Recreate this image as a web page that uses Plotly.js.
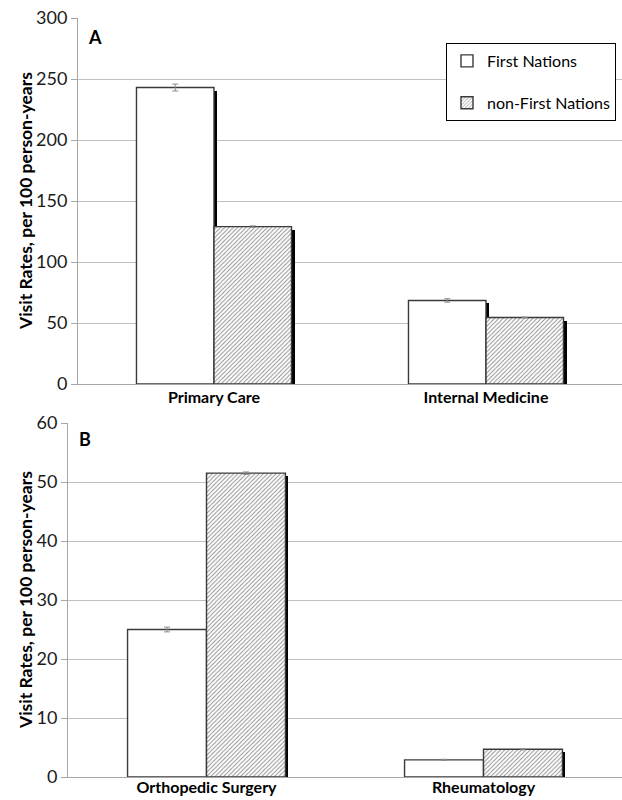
<!DOCTYPE html>
<html>
<head>
<meta charset="utf-8">
<script src="https://cdn.plot.ly/plotly-3.0.1.min.js"></script>
<style>html,body{margin:0;padding:0;background:#fff;}#chart{width:622px;height:800px;}</style>
</head>
<body>
<div id="chart"></div>
<script>
// ---- data ----
const categoriesA = ['Primary Care', 'Internal Medicine'];
const firstNationsA = [243, 68.5];
const firstNationsErrA = [2.8, 1.4];
const nonFirstNationsA = [129, 54.5];
const nonFirstNationsErrA = [0.6, 0.3];

const categoriesB = ['Orthopedic Surgery', 'Rheumatology'];
const firstNationsB = [25.0, 2.9];
const firstNationsErrB = [0.4, 0.1];
const nonFirstNationsB = [51.5, 4.7];
const nonFirstNationsErrB = [0.2, 0.1];

const seriesNames = ['First Nations', 'non-First Nations'];
const yTicksA = [0, 50, 100, 150, 200, 250, 300];
const yTicksB = [0, 10, 20, 30, 40, 50, 60];

// ---- styling ----
const FONT = 'Lato, "Open Sans", sans-serif';
const W = 0.285;            // bar width (category units)
const SHX = 0.011;          // shadow x shift (category units)
const shA = 300 * 3 / 366;  // shadow y shift panel A (data units ~3px)
const shB = 60 * 3 / 354;   // shadow y shift panel B
const outline = {color: '#3a3a3a', width: 1.4};
const hatch = {shape: '/', fgcolor: '#8a8a8a', bgcolor: '#ffffff', size: 3, solidity: 0.3};
const errStyle = (arr) => ({type: 'data', array: arr, visible: true, color: '#8a8a8a', thickness: 1, width: 3});

const idxA = categoriesA.map((_, i) => i);
const idxB = categoriesB.map((_, i) => i);

function panel(idx, fn, fnErr, non, nonErr, sh, xa, ya, showLegend) {
  const shadow = (vals, off) => ({
    type: 'bar', x: idx, y: vals, base: vals.map(() => -sh),
    width: W, offset: off + SHX, xaxis: xa, yaxis: ya,
    marker: {color: '#000'}, showlegend: false, hoverinfo: 'skip'
  });
  return [
    shadow(fn, -W),
    shadow(non, 0),
    {type: 'bar', name: seriesNames[0], x: idx, y: fn, width: W, offset: -W,
     xaxis: xa, yaxis: ya, marker: {color: '#fff', line: outline},
     error_y: errStyle(fnErr), showlegend: showLegend, legendgroup: 'g1'},
    {type: 'bar', name: seriesNames[1], x: idx, y: non, width: W, offset: 0,
     xaxis: xa, yaxis: ya, marker: {color: '#fff', line: outline, pattern: hatch},
     error_y: errStyle(nonErr), showlegend: showLegend, legendgroup: 'g2'}
  ];
}

const data = [
  ...panel(idxA, firstNationsA, firstNationsErrA, nonFirstNationsA, nonFirstNationsErrA, shA, 'x', 'y', true),
  ...panel(idxB, firstNationsB, firstNationsErrB, nonFirstNationsB, nonFirstNationsErrB, shB, 'x2', 'y2', false)
];

const L = 68, T = 18, B = 23, PW = 622 - L, PH = 800 - T - B;
const px2x = (p) => (p - L) / PW;
const px2y = (p) => (800 - B - p) / PH;

const yCommon = {
  showline: true, linecolor: '#a6a6a6', linewidth: 1,
  gridcolor: '#bfbfbf', gridwidth: 1, zeroline: false,
  ticks: 'outside', ticklen: 6, tickcolor: '#a6a6a6',
  tickfont: {family: FONT, size: 18, color: '#1a1a1a'}, automargin: false
};
const xCommon = {
  showline: true, linecolor: '#a6a6a6', linewidth: 1, showgrid: false, zeroline: false,
  ticks: '', range: [-0.5, 1.5], tickmode: 'array',
  tickfont: {family: FONT, size: 16, color: '#000', weight: 'bold'}, automargin: false
};

const layout = {
  width: 622, height: 800,
  margin: {l: L, r: 0, t: T, b: B},
  paper_bgcolor: '#fff', plot_bgcolor: '#fff',
  barmode: 'overlay', bargap: 0,
  font: {family: FONT},
  xaxis: Object.assign({}, xCommon, {domain: [px2x(78), 1], anchor: 'y',
    tickvals: idxA, ticktext: categoriesA, ticklabelstandoff: -1}),
  yaxis: Object.assign({}, yCommon, {domain: [px2y(384), px2y(18)], anchor: 'x',
    range: [0, 300], tickvals: yTicksA}),
  xaxis2: Object.assign({}, xCommon, {domain: [0, 1], anchor: 'y2',
    tickvals: idxB, ticktext: categoriesB, ticklabelstandoff: -4}),
  yaxis2: Object.assign({}, yCommon, {domain: [0, px2y(423)], anchor: 'x2',
    range: [0, 60], tickvals: yTicksB}),
  showlegend: true,
  legend: {
    x: px2x(446), y: px2y(43), xanchor: 'left', yanchor: 'top',
    bgcolor: '#fff', bordercolor: '#000', borderwidth: 1,
    font: {family: FONT, size: 16, color: '#000'},
    tracegroupgap: 18, traceorder: 'grouped', itemwidth: 30
  },
  annotations: [
    {text: '<b>A</b>', xref: 'paper', yref: 'paper', x: px2x(86), y: px2y(37),
     xanchor: 'left', yanchor: 'middle', showarrow: false, font: {family: FONT, size: 18, color: '#000'}},
    {text: '<b>B</b>', xref: 'paper', yref: 'paper', x: px2x(77), y: px2y(439),
     xanchor: 'left', yanchor: 'middle', showarrow: false, font: {family: FONT, size: 18, color: '#000'}},
    {text: '<b>Visit Rates, per 100 person-years</b>', xref: 'paper', yref: 'paper',
     x: px2x(25), y: px2y(201), xanchor: 'center', yanchor: 'middle', textangle: -90,
     showarrow: false, font: {family: FONT, size: 17.5, color: '#000'}},
    {text: '<b>Visit Rates, per 100 person-years</b>', xref: 'paper', yref: 'paper',
     x: px2x(25), y: px2y(600), xanchor: 'center', yanchor: 'middle', textangle: -90,
     showarrow: false, font: {family: FONT, size: 17.5, color: '#000'}}
  ]
};

Plotly.newPlot('chart', data, layout, {displayModeBar: false, staticPlot: true});
</script>
</body>
</html>
